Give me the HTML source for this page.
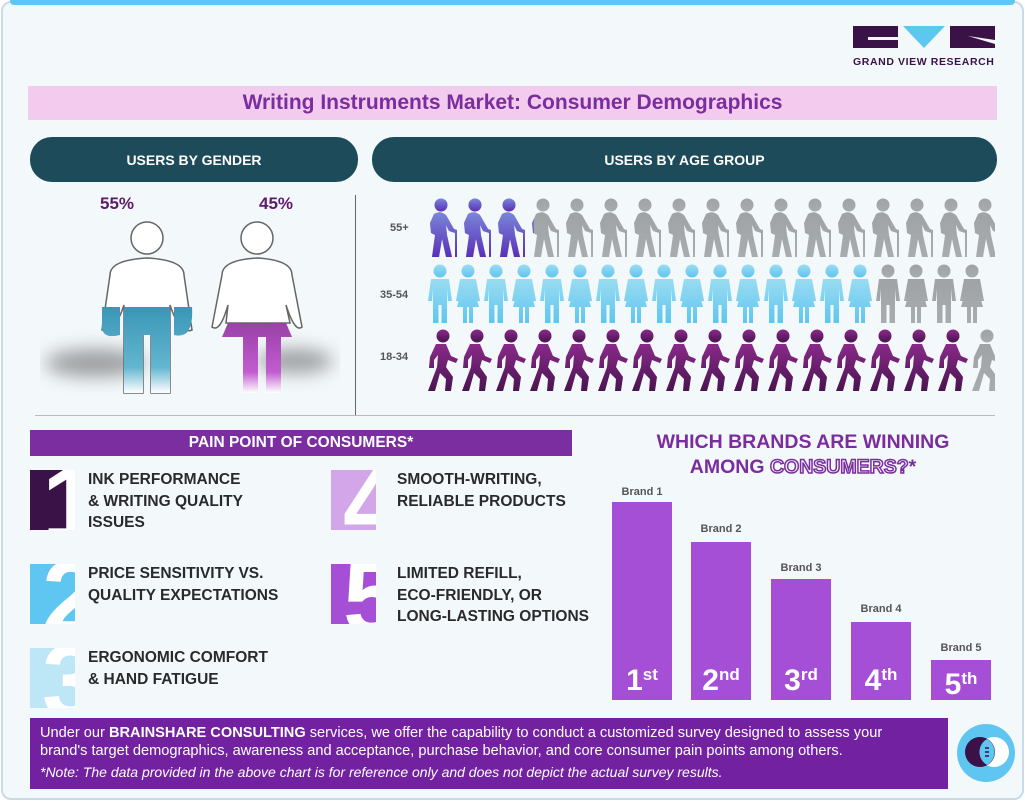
<!DOCTYPE html>
<html><head><meta charset="utf-8">
<style>
*{margin:0;padding:0;box-sizing:border-box}
body{width:1025px;height:801px;background:#fff;font-family:"Liberation Sans",sans-serif;position:relative;overflow:hidden}
.a{position:absolute}
.frame{left:1px;top:1px;width:1023px;height:799px;border:2px solid #c9dbe6;border-radius:10px;background:#f3f8fb}
.top{left:10px;top:0;width:1005px;height:5px;background:#5cc8f0;border-radius:0 0 4px 4px}
.pill{background:#1e4b5a;color:#fff;font-weight:bold;font-size:14px;border-radius:22px;display:flex;align-items:center;justify-content:center}
.num{overflow:hidden;width:45px;height:60px}
.num span{position:absolute;left:12px;top:-18px;font-size:104px;font-weight:bold;color:#fff;line-height:1}
.it{font-weight:bold;font-size:15.5px;color:#2a2a2a;line-height:21.5px}
.bar{background:#a44fd6;color:#fff;font-weight:bold;font-size:30px;text-align:center}
.bar sup{font-size:17px;vertical-align:10px}
.bl{font-size:11px;font-weight:bold;color:#555;text-align:center;width:60px}
</style></head><body>
<div class="a frame"></div>
<div class="a top"></div>
<svg class="a" style="left:853px;top:26px" width="142" height="24">
<rect x="0" y="0" width="45" height="22" fill="#3a1248"/><rect x="15" y="11" width="30" height="3" fill="#f3f8fb"/>
<polygon points="50,0 92,0 71,22" fill="#5cc8f0"/>
<rect x="97" y="0" width="45" height="22" fill="#3a1248"/><polygon points="115,10 142,14 142,18" fill="#f3f8fb"/>
</svg>
<div class="a" style="left:853px;top:56px;font-size:10.5px;font-weight:bold;color:#3a1248;letter-spacing:0.6px">GRAND VIEW RESEARCH</div>
<div class="a" style="left:28px;top:86px;width:969px;height:34px;background:#f2cbef;color:#7b2c9e;font-weight:bold;font-size:21px;text-align:center;line-height:34px">Writing Instruments Market: Consumer Demographics</div>
<div class="a pill" style="left:30px;top:137px;width:328px;height:45px">USERS BY GENDER</div>
<div class="a pill" style="left:372px;top:137px;width:625px;height:45px">USERS BY AGE GROUP</div>
<div class="a" style="left:355px;top:195px;width:1px;height:220px;background:#666"></div>
<div class="a" style="left:35px;top:415px;width:960px;height:1px;background:#bbb"></div>
<div class="a" style="left:100px;top:194px;font-size:17px;font-weight:bold;color:#5e1a6c">55%</div>
<div class="a" style="left:259px;top:194px;font-size:17px;font-weight:bold;color:#5e1a6c">45%</div>
<svg class="a" style="left:40px;top:215px" width="300" height="185">
<defs>
<linearGradient id="gb" x1="0" y1="0" x2="0" y2="1"><stop offset="0" stop-color="#3a96b6"/><stop offset="0.7" stop-color="#62b6d0"/><stop offset="1" stop-color="#fff"/></linearGradient>
<linearGradient id="gp" x1="0" y1="0" x2="0" y2="1"><stop offset="0" stop-color="#9a40a8"/><stop offset="0.7" stop-color="#c25cd0"/><stop offset="1" stop-color="#fff"/></linearGradient>
<filter id="bl" x="-50%" y="-100%" width="200%" height="300%"><feGaussianBlur stdDeviation="9"/></filter>
</defs>
<ellipse cx="55" cy="148" rx="50" ry="14" fill="#555" opacity="0.55" filter="url(#bl)"/>
<ellipse cx="255" cy="146" rx="38" ry="12" fill="#555" opacity="0.55" filter="url(#bl)"/>
<circle cx="107" cy="23" r="16" fill="#fff" stroke="#666" stroke-width="1.5"/>
<path d="M70,60 Q70,45 107,43 Q144,45 144,60 L152,115 Q140,120 130,90 L130,178 L111,178 L111,115 L103,115 L103,178 L84,178 L84,90 Q74,120 62,115 Z" fill="#fff" stroke="#666" stroke-width="1.5"/>
<path d="M62,92 L80,92 L80,120 Q60,125 62,108 Z M134,92 L152,92 Q154,125 134,120Z M84,92 L130,92 L130,178 L111,178 L111,120 L103,120 L103,178 L84,178Z" fill="url(#gb)"/>
<circle cx="217" cy="23" r="16" fill="#fff" stroke="#666" stroke-width="1.5"/>
<path d="M182,60 Q182,45 217,43 Q252,45 252,60 L262,112 Q255,118 246,90 L250,108 L186,108 L188,90 Q180,118 172,112 Z" fill="#fff" stroke="#666" stroke-width="1.5"/>
<path d="M188,108 L246,108 L252,122 L241,122 L241,178 L226,178 L226,122 L218,122 L218,178 L203,178 L203,122 L182,122Z" fill="url(#gp)"/>
</svg>
<div class="a" style="left:390px;top:222px;font-size:11px;font-weight:bold;color:#555">55+</div>
<div class="a" style="left:380px;top:289px;font-size:11px;font-weight:bold;color:#555">35-54</div>
<div class="a" style="left:380px;top:351px;font-size:11px;font-weight:bold;color:#555">18-34</div>
<svg class="a" style="left:420px;top:195px" width="575" height="200">
<defs>
<g id="old"><circle cx="13" cy="8" r="6.5"/><path d="M6,17 Q12,13 18,18 L26,32 L29,33 L29,60 L27,60 L27,36 L21,34 L18,28 L19,38 L24,60 L18,60 L14,42 L11,60 L4,60 L7,38 L3,36 L2,26Z"/></g>
<g id="man"><circle cx="12" cy="8" r="6.5"/><path d="M3,16 L21,16 L24,38 L20,38 L19,26 L19,60 L13.5,60 L13.5,42 L10.5,42 L10.5,60 L5,60 L5,26 L4,38 L0,38Z"/></g>
<g id="wom"><circle cx="12" cy="8" r="6.5"/><path d="M4,16 L20,16 L24,38 L20,38 L18,26 L23,44 L17,44 L17,60 L13,60 L13,44 L11,44 L11,60 L7,60 L7,44 L1,44 L6,26 L4,38 L0,38Z"/></g>
<g id="walk"><circle cx="15" cy="7" r="6.5"/><path d="M8,15 L18,15 L23,27 L30,30 L28,34 L20,31 L18,38 L25,48 L23,62 L17,62 L18,50 L12,44 L7,62 L0,62 L9,38 L10,26 L6,31 L6,39 L1,39 L2,28Z"/></g>
<linearGradient id="gold" x1="0" y1="0" x2="0" y2="1"><stop offset="0" stop-color="#7a86d8"/><stop offset="1" stop-color="#5a2fb8"/></linearGradient>
<linearGradient id="gy" x1="0" y1="0" x2="0" y2="1"><stop offset="0" stop-color="#9fa3a6"/><stop offset="1" stop-color="#a9acae"/></linearGradient>
<linearGradient id="gbl" x1="0" y1="0" x2="0" y2="1"><stop offset="0" stop-color="#9adcf2"/><stop offset="1" stop-color="#5ec6f0"/></linearGradient>
<linearGradient id="gw" x1="0" y1="0" x2="0" y2="1"><stop offset="0" stop-color="#8a2a8a"/><stop offset="1" stop-color="#4a1450"/></linearGradient>
<clipPath id="c1"><rect x="0" y="0" width="114" height="70"/></clipPath>
</defs>
<g fill="url(#gy)">
<use href="#old" x="8" y="2"/><use href="#old" x="42" y="2"/><use href="#old" x="76" y="2"/><use href="#old" x="110" y="2"/><use href="#old" x="144" y="2"/><use href="#old" x="178" y="2"/><use href="#old" x="212" y="2"/><use href="#old" x="246" y="2"/><use href="#old" x="280" y="2"/><use href="#old" x="314" y="2"/><use href="#old" x="348" y="2"/><use href="#old" x="382" y="2"/><use href="#old" x="416" y="2"/><use href="#old" x="450" y="2"/><use href="#old" x="484" y="2"/><use href="#old" x="518" y="2"/><use href="#old" x="552" y="2"/>
</g>
<g fill="url(#gold)" clip-path="url(#c1)">
<use href="#old" x="8" y="2"/><use href="#old" x="42" y="2"/><use href="#old" x="76" y="2"/><use href="#old" x="110" y="2"/>
</g>
<g fill="url(#gbl)">
<use href="#man" x="8" y="68"/><use href="#wom" x="36" y="68"/><use href="#man" x="64" y="68"/><use href="#wom" x="92" y="68"/><use href="#man" x="120" y="68"/><use href="#wom" x="148" y="68"/><use href="#man" x="176" y="68"/><use href="#wom" x="204" y="68"/><use href="#man" x="232" y="68"/><use href="#wom" x="260" y="68"/><use href="#man" x="288" y="68"/><use href="#wom" x="316" y="68"/><use href="#man" x="344" y="68"/><use href="#wom" x="372" y="68"/><use href="#man" x="400" y="68"/><use href="#wom" x="428" y="68"/>
</g>
<g fill="url(#gy)"><use href="#man" x="456" y="68"/><use href="#wom" x="484" y="68"/><use href="#man" x="512" y="68"/><use href="#wom" x="540" y="68"/></g>
<g fill="url(#gw)">
<use href="#walk" x="8" y="134"/><use href="#walk" x="42" y="134"/><use href="#walk" x="76" y="134"/><use href="#walk" x="110" y="134"/><use href="#walk" x="144" y="134"/><use href="#walk" x="178" y="134"/><use href="#walk" x="212" y="134"/><use href="#walk" x="246" y="134"/><use href="#walk" x="280" y="134"/><use href="#walk" x="314" y="134"/><use href="#walk" x="348" y="134"/><use href="#walk" x="382" y="134"/><use href="#walk" x="416" y="134"/><use href="#walk" x="450" y="134"/><use href="#walk" x="484" y="134"/><use href="#walk" x="518" y="134"/>
</g>
<g fill="url(#gy)"><use href="#walk" x="552" y="134"/></g>
</svg>
<div class="a" style="left:30px;top:430px;width:542px;height:26px;background:#7a2ea0;color:#fff;font-weight:bold;font-size:15.5px;text-align:center;line-height:26px">PAIN POINT OF CONSUMERS*</div>
<div class="a num" style="left:30px;top:470px;background:#3a1248"><span>1</span></div>
<div class="a num" style="left:30px;top:564px;background:#5ec6f0"><span>2</span></div>
<div class="a num" style="left:30px;top:648px;background:#bde6f6"><span>3</span></div>
<div class="a num" style="left:331px;top:470px;background:#d2a6e8"><span>4</span></div>
<div class="a num" style="left:331px;top:564px;background:#a44fd6"><span>5</span></div>
<div class="a it" style="left:88px;top:469px">INK PERFORMANCE<br>&amp; WRITING QUALITY<br>ISSUES</div>
<div class="a it" style="left:88px;top:563px">PRICE SENSITIVITY VS.<br>QUALITY EXPECTATIONS</div>
<div class="a it" style="left:88px;top:647px">ERGONOMIC COMFORT<br>&amp; HAND FATIGUE</div>
<div class="a it" style="left:397px;top:469px">SMOOTH-WRITING,<br>RELIABLE PRODUCTS</div>
<div class="a it" style="left:397px;top:563px">LIMITED REFILL,<br>ECO-FRIENDLY, OR<br>LONG-LASTING OPTIONS</div>
<div class="a" style="left:603px;top:430px;width:400px;text-align:center;color:#7b2c9e;font-weight:bold;font-size:19.5px;line-height:25px">WHICH BRANDS ARE WINNING<br>AMONG <span style="color:#f3f8fb;-webkit-text-stroke:1.5px #7b2c9e">CONSUMERS?</span>*</div>
<div class="a bl" style="left:612px;top:486px">Brand 1</div>
<div class="a bl" style="left:691px;top:523px">Brand 2</div>
<div class="a bl" style="left:771px;top:562px">Brand 3</div>
<div class="a bl" style="left:851px;top:603px">Brand 4</div>
<div class="a bl" style="left:931px;top:642px">Brand 5</div>
<div class="a bar" style="left:612px;top:502px;width:60px;height:198px;padding-top:158px;line-height:30px">1<sup>st</sup></div>
<div class="a bar" style="left:691px;top:542px;width:60px;height:158px;padding-top:118px;line-height:30px">2<sup>nd</sup></div>
<div class="a bar" style="left:771px;top:579px;width:60px;height:121px;padding-top:81px;line-height:30px">3<sup>rd</sup></div>
<div class="a bar" style="left:851px;top:622px;width:60px;height:78px;padding-top:38px;line-height:30px">4<sup>th</sup></div>
<div class="a bar" style="left:931px;top:660px;width:60px;height:40px;padding-top:4px;line-height:30px">5<sup>th</sup></div>
<div class="a" style="left:30px;top:718px;width:918px;height:71px;background:#7222a0;color:#fff;font-size:14.6px;padding:6px 0 0 10px;line-height:18px">Under our <b>BRAINSHARE CONSULTING</b> services, we offer the capability to conduct a customized survey designed to assess your<br>brand's target demographics, awareness and acceptance, purchase behavior, and core consumer pain points among others.<br><i style="font-size:14px;line-height:24px">*Note: The data provided in the above chart is for reference only and does not depict the actual survey results.</i></div>
<svg class="a" style="left:956px;top:723px" width="60" height="60">
<circle cx="30" cy="30" r="29" fill="#5ec6f0"/>
<circle cx="38" cy="29" r="15" fill="#fff"/>
<circle cx="24" cy="29" r="15" fill="#3a1248"/>
<path d="M31,16 A15,15 0 0 1 31,42 A15,15 0 0 1 31,16Z" fill="#5ec6f0"/>
<path d="M29,25 h4 M29,29 h4 M29,33 h4" stroke="#3a1248" stroke-width="1.5"/>
</svg>
</body></html>
